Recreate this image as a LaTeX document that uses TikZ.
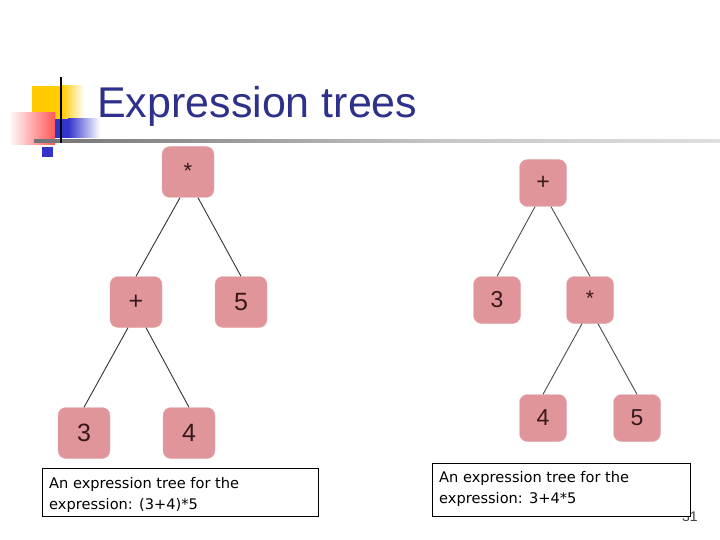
\documentclass[tikz,border=0pt]{standalone}
\usepackage{fontspec}
\setmainfont{Liberation Sans}
\newfontfamily\dvs{DejaVu Sans}
\pgfdeclarehorizontalshading{hlinesh}{100bp}{color(0bp)=(black!90); color(25bp)=(black!55); color(55bp)=(black!22); color(85bp)=(black!8); color(100bp)=(white)}
\definecolor{titleblue}{RGB}{46,49,140}
\definecolor{boxpink}{RGB}{224,149,154}
\definecolor{boxedge}{RGB}{232,170,174}
\definecolor{labtxt}{RGB}{55,25,28}
\definecolor{decoyellow}{RGB}{255,204,0}
\definecolor{decoblue}{RGB}{51,51,204}
\begin{document}
\begin{tikzpicture}[x=1pt,y=-1pt,
  tnodeL/.style={draw=boxedge, fill=boxpink, rounded corners=8pt, minimum width=52pt, minimum height=51pt, inner sep=0pt, text=labtxt, font=\fontsize{25}{25}\selectfont},
  tnodeR/.style={draw=boxedge, fill=boxpink, rounded corners=8pt, minimum width=47pt, minimum height=47pt, inner sep=0pt, text=labtxt, font=\fontsize{23}{23}\selectfont},
  edgeL/.style={draw=black!80, line width=0.9pt},
  edgeR/.style={draw=black!70, line width=0.9pt},
  capbox/.style={draw=black, line width=1pt, fill=white},
  captxt/.style={anchor=base west, inner sep=0pt, font=\dvs\fontsize{14.6}{14.6}\selectfont, text=black}
]
\useasboundingbox (0,0) rectangle (720,540);
% decoration
\fill[decoyellow] (32,86) rectangle (62,119);
\shade[left color=decoyellow, right color=white] (62,86) rectangle (84,119);
\shade[left color=red!4, right color=red] (10,113) rectangle (55,145);
\shade[top color=white, bottom color=white, opacity=0.35] (10,113) rectangle (55,145);
\fill[decoblue] (55,119) rectangle (68,138);
\shade[left color=decoblue, right color=white] (68,119) rectangle (100,138);
\shade[shading=hlinesh] (34,139.5) rectangle (720,142.5);
\draw[black, line width=2.5pt] (61,77) -- (61,143);
\fill[decoblue] (42,147) rectangle (53,157);
% title
\node[anchor=base west, inner sep=0pt, text=titleblue, font=\fontsize{43}{43}\selectfont] (title) at (97,118) {Expression trees};
% page number
\node[anchor=base west, inner sep=0pt, text=black!75, font=\fontsize{14}{14}\selectfont] (pnum) at (682,521) {31};
% left tree
\node[tnodeL] (Lm) at (188,172) {\raisebox{3pt}{\fontsize{22}{22}\selectfont *}};
\node[tnodeL] (Lp) at (136,302) {+};
\node[tnodeL] (L5) at (241,302) {5};
\node[tnodeL] (L3) at (84,433) {3};
\node[tnodeL] (L4) at (189,433) {4};
\draw[edgeL] (Lm.south) ++(-8,0) coordinate (a1) -- (Lp.north);
\draw[edgeL] (Lm.south) ++(10,0) coordinate (a2) -- (L5.north);
\draw[edgeL] (Lp.south) ++(-8,0) coordinate (a3) -- (L3.north);
\draw[edgeL] (Lp.south) ++(10,0) coordinate (a4) -- (L4.north);
% right tree
\node[tnodeR] (Rp) at (543,183) {+};
\node[tnodeR] (R3) at (497,300) {3};
\node[tnodeR] (Rm) at (590,300) {\raisebox{3pt}{\fontsize{21}{21}\selectfont *}};
\node[tnodeR] (R4) at (543,418) {4};
\node[tnodeR] (R5) at (637,418) {5};
\draw[edgeR] (Rp.south) ++(-8,0) coordinate (c1) -- (R3.north);
\draw[edgeR] (Rp.south) ++(8,0) coordinate (c2) -- (Rm.north);
\draw[edgeR] (Rm.south) ++(-8,0) coordinate (c3) -- (R4.north);
\draw[edgeR] (Rm.south) ++(8,0) coordinate (c4) -- (R5.north);
% captions
\node[capbox, minimum width=276pt, minimum height=48pt, anchor=north west, inner sep=0pt] (capL) at (42,468) {};
\node[captxt] (capL1) at (49,488) {An expression tree for the};
\node[captxt] (capL2) at (49,509) {expression: (3+4)*5};
\node[capbox, minimum width=258pt, minimum height=53pt, anchor=north west, inner sep=0pt] (capR) at (432,463) {};
\node[captxt] (capR1) at (439,482) {An expression tree for the};
\node[captxt] (capR2) at (439,503) {expression: 3+4*5};
\end{tikzpicture}
\end{document}
